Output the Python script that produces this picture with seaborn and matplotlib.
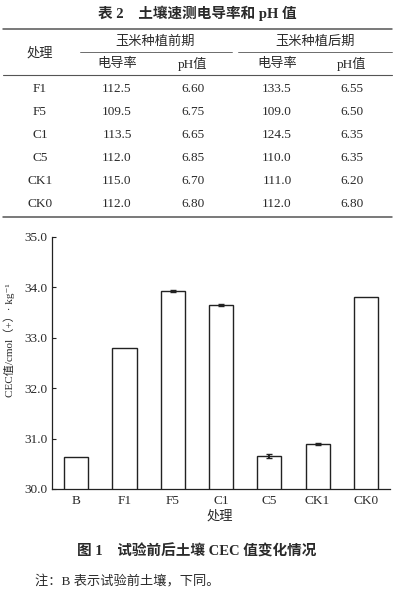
import matplotlib
matplotlib.use("Agg")
import matplotlib.pyplot as plt
from matplotlib.lines import Line2D
import seaborn as sns
import pandas as pd

# ---- data ----
treatments = ["B", "F1", "F5", "C1", "C5", "CK1", "CK0"]
cec_values = [30.64, 32.80, 33.92, 33.66, 30.66, 30.90, 33.81]
cec_err = [0.0, 0.0, 0.02, 0.02, 0.04, 0.02, 0.0]
yticks = [30.0, 31.0, 32.0, 33.0, 34.0, 35.0]

table_rows = ["F1", "F5", "C1", "C5", "CK1", "CK0"]
ec_before = ["112.5", "109.5", "113.5", "112.0", "115.0", "112.0"]
ph_before = ["6.60", "6.75", "6.65", "6.85", "6.70", "6.80"]
ec_after = ["133.5", "109.0", "124.5", "110.0", "111.0", "112.0"]
ph_after = ["6.55", "6.50", "6.35", "6.35", "6.20", "6.80"]

table_title = "表 2　土壤速测电导率和 pH 值"
group_headers = ["玉米种植前期", "玉米种植后期"]
sub_headers = ["电导率", "pH值", "电导率", "pH值"]
row_header = "处理"
fig_caption = "图 1　试验前后土壤 CEC 值变化情况"
note = "注：B 表示试验前土壤，下同。"
ylabel = "CEC值/cmol（+）· kg⁻¹"
xlabel = "处理"

sns.set_theme(style="white")
FAM = ["Liberation Serif", "Noto Sans CJK SC", "DejaVu Sans"]
plt.rcParams["font.family"] = FAM
plt.rcParams["axes.unicode_minus"] = False

W, H = 394, 600
fig = plt.figure(figsize=(W / 100, H / 100), dpi=100)
TXT = "#2a2a2a"

def fx(px):
    return px / W

def fy(py):
    return 1 - py / H

def ftext(x, y, s, size=9.5, weight="normal", ha="center"):
    fig.text(fx(x), fy(y), s, ha=ha, va="center", fontsize=size,
             fontweight=weight, family=FAM, color=TXT)

def hline(x0, x1, y, lw=0.8):
    fig.add_artist(Line2D([fx(x0), fx(x1)], [fy(y), fy(y)],
                          transform=fig.transFigure, color="#555555", lw=lw))

# ---- table ----
ftext(197, 13, table_title, size=10.5, weight="bold")
hline(3, 392, 29, lw=1.1)
ftext(40, 53, row_header)
ftext(155, 42, group_headers[0])
ftext(315, 42, group_headers[1])
hline(80, 232, 52, lw=0.6)
hline(238, 392, 52, lw=0.6)
col_x = [117, 193, 277, 352]
for cx, s in zip(col_x, sub_headers):
    ftext(cx, 64, s)
hline(3, 392, 75, lw=0.8)
row_y = [89, 112, 135, 158, 181, 204]
for i, ry in enumerate(row_y):
    ftext(40, ry, table_rows[i])
    ftext(col_x[0], ry, ec_before[i])
    ftext(col_x[1], ry, ph_before[i])
    ftext(col_x[2], ry, ec_after[i])
    ftext(col_x[3], ry, ph_after[i])
hline(3, 392, 217, lw=1.1)

# ---- bar chart ----
df = pd.DataFrame({"treatment": treatments, "cec": cec_values, "err": cec_err})
ax = fig.add_axes([fx(52), fy(489), fx(390) - fx(52), fy(237) - fy(489)])
sns.barplot(data=df, x="treatment", y="cec", ax=ax, color="white",
            edgecolor="#222222", linewidth=1.0, width=0.5, errorbar=None)
xs = list(range(len(treatments)))
eb = df[df["err"] > 0]
ax.errorbar([treatments.index(t) for t in eb["treatment"]], eb["cec"], yerr=eb["err"],
            fmt="none", ecolor="#222222", elinewidth=1.4, capsize=2.2, capthick=1.0)
ax.set_ylim(30.0, 35.0)
ax.set_xlim(-0.5, len(treatments) - 0.5)
ax.set_yticks(yticks)
ax.set_yticklabels([f"{v:.1f}" for v in yticks], fontsize=9.5, family=FAM, color=TXT)
ax.set_xticks(xs)
ax.set_xticklabels(treatments, fontsize=9.5, family=FAM, color=TXT)
ax.tick_params(axis="y", direction="in", length=3, width=0.8, left=True, pad=3, color="#222222")
ax.tick_params(axis="x", length=0, pad=4)
for side in ["top", "right"]:
    ax.spines[side].set_visible(False)
for side in ["left", "bottom"]:
    ax.spines[side].set_color("#222222")
    ax.spines[side].set_linewidth(0.9)
ax.set_xlabel(xlabel, fontsize=9.5, family=FAM, color=TXT, va="center")
ax.xaxis.set_label_coords((220 - 52) / 338, -(516 - 489) / 252)
ax.set_ylabel(ylabel, fontsize=8, family=FAM, color=TXT)
ax.yaxis.set_label_coords((15 - 52) / 338, (489 - 340) / 252)
ax.set_facecolor("none")

ftext(197, 551, fig_caption, size=10.5, weight="bold")
ftext(35, 582, note, size=9.5, ha="left")

fig.savefig("out.png", dpi=100, facecolor="white")
